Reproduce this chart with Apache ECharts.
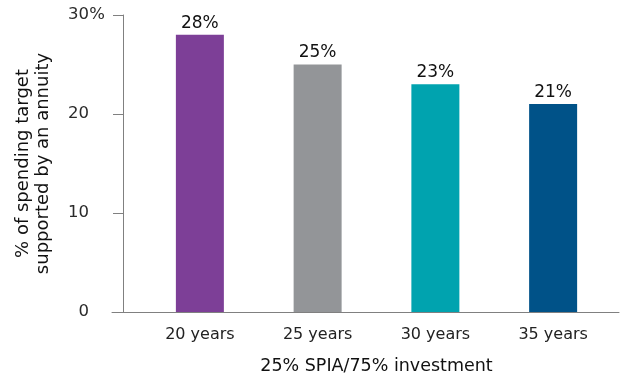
<!DOCTYPE html>
<html>
<head>
<meta charset="utf-8">
<script src="https://cdn.jsdelivr.net/npm/echarts@6/dist/echarts.min.js"></script>
<style>html,body{margin:0;padding:0;background:#fff}#c{width:620px;height:375px}</style>
</head>
<body>
<div id="c"></div>
<script>
var categories = ['20 years', '25 years', '30 years', '35 years'];
var values = [28, 25, 23, 21];
var barColors = ['#7D3F97', '#939598', '#00A3AF', '#005288'];
var yTicks = [0, 10, 20, 30];
var yTitle = '% of spending target\nsupported by an annuity';
var xTitle = '25% SPIA/75% investment';

var FONT = 'DejaVu Sans';
var chart = echarts.init(document.getElementById('c'), null, {renderer: 'canvas'});
chart.setOption({
  animation: false,
  textStyle: {fontFamily: FONT},
  grid: [
    {left: 141, right: 8, top: 15, bottom: 63, containLabel: false, outerBoundsMode: 'none'},
    {left: 112, right: 1, top: 15, bottom: 63, containLabel: false, outerBoundsMode: 'none'}
  ],
  xAxis: [
    {
      type: 'category', gridIndex: 0, data: categories,
      axisLine: {show: false}, axisTick: {show: false},
      axisLabel: {color: '#222', fontSize: 16, margin: 15, fontFamily: FONT},
      name: xTitle, nameLocation: 'middle', nameGap: 45,
      nameTextStyle: {color: '#111', fontSize: 17.5, fontFamily: FONT}
    },
    {
      type: 'value', gridIndex: 1, min: 0, max: 1,
      axisLine: {show: true, lineStyle: {color: '#808080', width: 1}},
      axisTick: {show: false}, axisLabel: {show: false}, splitLine: {show: false}
    }
  ],
  yAxis: [
    {
      type: 'value', gridIndex: 0, min: yTicks[0], max: yTicks[yTicks.length - 1], interval: 10,
      offset: 18,
      axisLine: {show: true, lineStyle: {color: '#808080', width: 1}},
      axisTick: {show: true, length: 10, lineStyle: {color: '#808080'}},
      splitLine: {show: false},
      axisLabel: {
        color: '#2a2a2a', fontSize: 16.5, margin: 18, fontFamily: FONT, align: 'right',
        formatter: function (v) {
          return v === yTicks[yTicks.length - 1] ? '{n|' + v + '}{s|%}' : '{n|' + v + '}{s| }';
        },
        rich: {
          n: {fontSize: 16.5, color: '#2a2a2a', fontFamily: FONT},
          s: {fontSize: 16.5, color: '#2a2a2a', fontFamily: FONT, width: 16, align: 'left'}
        }
      },
      name: yTitle, nameLocation: 'middle', nameGap: 70, nameRotate: 90,
      nameTextStyle: {color: '#111', fontSize: 18, lineHeight: 20, fontFamily: FONT, align: 'center'}
    },
    {type: 'value', gridIndex: 1, show: false, min: 0, max: 1}
  ],
  series: [
    {
      type: 'bar', xAxisIndex: 0, yAxisIndex: 0, barWidth: 48,
      data: values.map(function (v, i) { return {value: v, itemStyle: {color: barColors[i]}}; }),
      label: {
        show: true, position: 'top', distance: 3, color: '#111', fontSize: 17, fontFamily: FONT,
        formatter: function (p) { return p.value + '%'; }
      }
    }
  ]
});
</script>
</body>
</html>
